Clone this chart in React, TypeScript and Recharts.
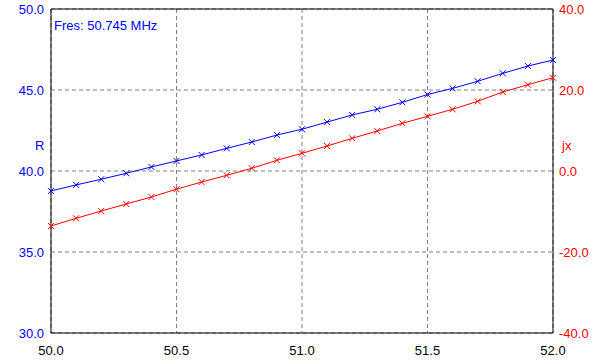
import React from 'react';
import {
  LineChart,
  Line,
  XAxis,
  YAxis,
  CartesianGrid,
  ReferenceArea
} from 'recharts';

const freqs = [
  50.0, 50.1, 50.2, 50.3, 50.4, 50.5, 50.6, 50.7, 50.8, 50.9, 51.0,
  51.1, 51.2, 51.3, 51.4, 51.5, 51.6, 51.7, 51.8, 51.9, 52.0
];
const rValues = [
  38.77, 39.14, 39.49, 39.86, 40.25, 40.62, 40.99, 41.4, 41.79, 42.22, 42.58,
  43.02, 43.46, 43.81, 44.24, 44.72, 45.1, 45.54, 46.03, 46.48, 46.85
];
const jxValues = [
  -13.58, -11.68, -9.88, -8.15, -6.42, -4.49, -2.72, -1.06, 0.67, 2.64, 4.37,
  6.17, 8.07, 9.88, 11.78, 13.51, 15.23, 17.21, 19.51, 21.31, 23.04
];
const xTicks = [50.0, 50.5, 51.0, 51.5, 52.0];
const rTicks = [30, 35, 40, 45, 50];
const jxTicks = [-40, -20, 0, 20, 40];

const data = freqs.map((f, i) => ({ f, r: rValues[i], jx: jxValues[i] }));

const font = '"Liberation Sans", Arial, sans-serif';

const Cross = (color: string) => (props: any) => {
  const { cx, cy } = props;
  if (cx == null || cy == null) return <g />;
  const s = 3;
  return (
    <g stroke={color} strokeWidth={1}>
      <line x1={cx - s} y1={cy - s} x2={cx + s} y2={cy + s} />
      <line x1={cx - s} y1={cy + s} x2={cx + s} y2={cy - s} />
    </g>
  );
};

export default function App() {
  return (
    <div style={{ position: 'absolute', left: 0, top: 0, width: 601, height: 364, background: '#fff', fontFamily: font }}>
      <LineChart
        width={601}
        height={364}
        data={data}
        margin={{ top: 9, right: 0, left: 0, bottom: 0 }}
      >
        <CartesianGrid yAxisId="left" stroke="#808080" strokeDasharray="4 3" />
        <XAxis
          dataKey="f"
          type="number"
          domain={[50, 52]}
          ticks={xTicks}
          tickFormatter={(v: number) => v.toFixed(1)}
          axisLine={false}
          tickLine={false}
          tickMargin={7}
          height={31}
          tick={{ fill: '#000', fontSize: 13, fontFamily: font }}
        />
        <YAxis
          yAxisId="left"
          domain={[30, 50]}
          ticks={rTicks}
          tickFormatter={(v: number) => v.toFixed(1)}
          axisLine={false}
          tickLine={false}
          tickSize={4}
          tickMargin={3}
          width={51}
          tick={{ fill: '#0000ff', fontSize: 13, fontFamily: font }}
        />
        <YAxis
          yAxisId="right"
          orientation="right"
          domain={[-40, 40]}
          ticks={jxTicks}
          tickFormatter={(v: number) => v.toFixed(1)}
          axisLine={false}
          tickLine={false}
          tickSize={4}
          tickMargin={2}
          width={48}
          tick={{ fill: '#ff0000', fontSize: 13, fontFamily: font }}
        />
        <ReferenceArea
          yAxisId="left"
          x1={50}
          x2={52}
          y1={30}
          y2={50}
          fill="none"
          fillOpacity={0}
          stroke="#000"
          strokeWidth={1}
          strokeOpacity={1}
        />
        <Line
          yAxisId="left"
          dataKey="r"
          stroke="#0000ff"
          strokeWidth={1}
          dot={Cross('#0000ff')}
          activeDot={false}
          isAnimationActive={false}
        />
        <Line
          yAxisId="right"
          dataKey="jx"
          stroke="#ff0000"
          strokeWidth={1}
          dot={Cross('#ff0000')}
          activeDot={false}
          isAnimationActive={false}
        />
      </LineChart>
      <div style={{ position: 'absolute', left: 54, top: 18, fontSize: 13, color: '#0000ff', whiteSpace: 'nowrap' }}>
        Fres: 50.745 MHz
      </div>
      <div style={{ position: 'absolute', left: 35, top: 138, fontSize: 13, color: '#0000ff' }}>R</div>
      <div style={{ position: 'absolute', left: 562, top: 138, fontSize: 13, color: '#ff0000' }}>jx</div>
    </div>
  );
}
